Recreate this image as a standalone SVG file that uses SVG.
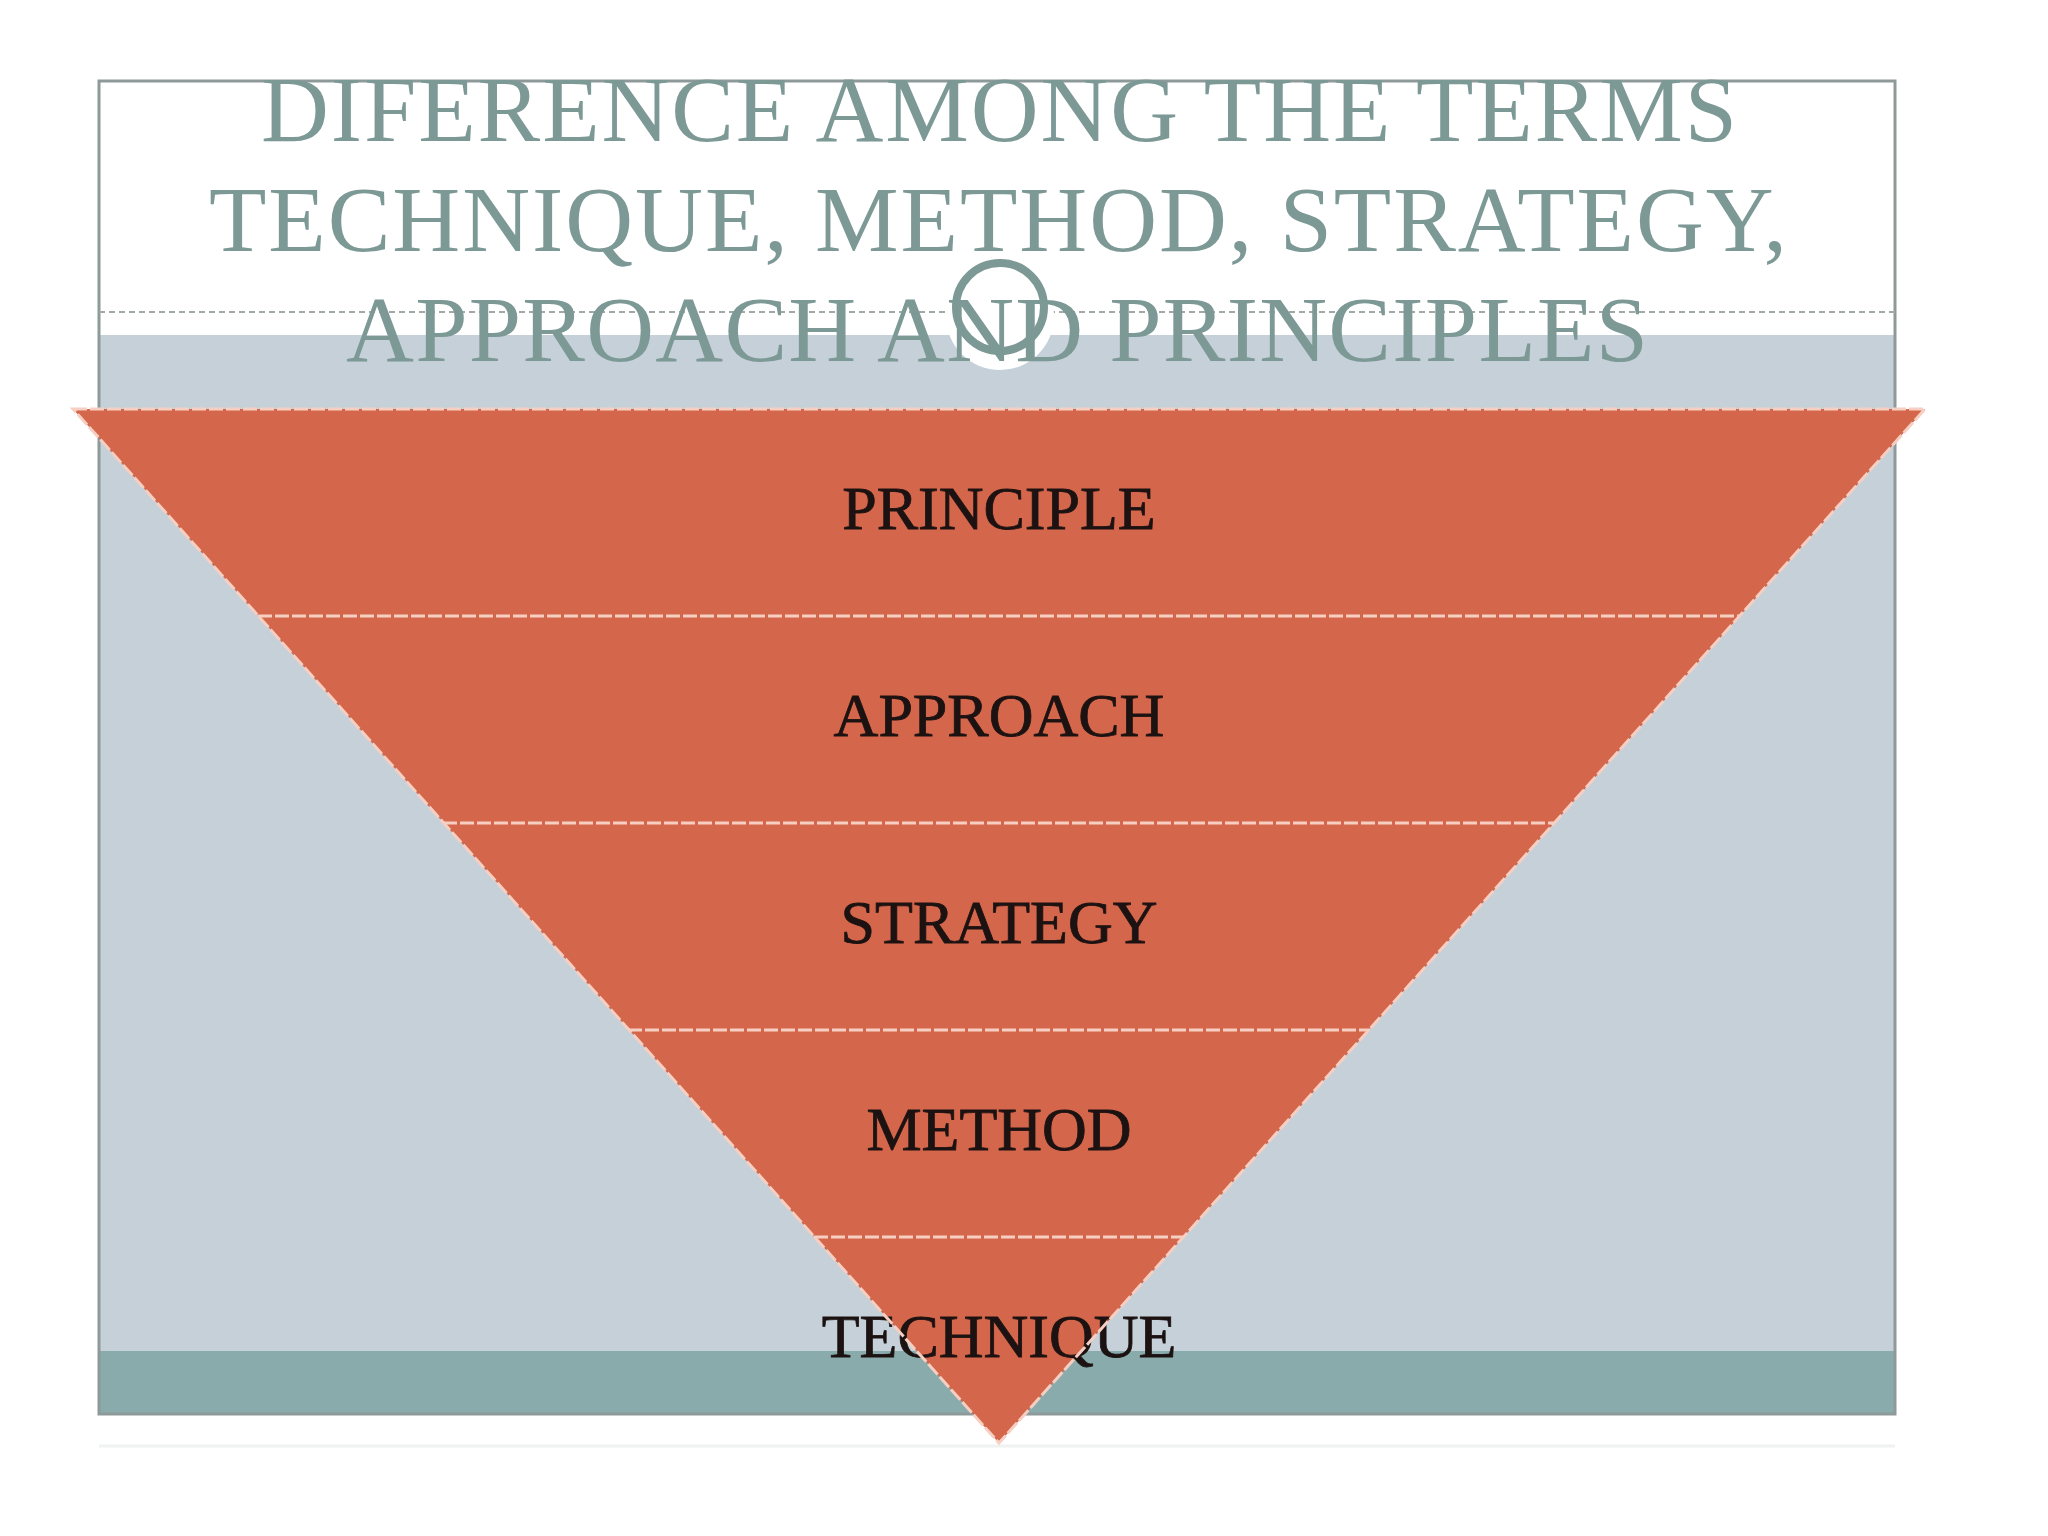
<svg xmlns="http://www.w3.org/2000/svg" width="2048" height="1536" viewBox="0 0 2048 1536">
  <style>
    .title { font-family: "Liberation Serif", "Times New Roman", serif; font-size: 94px; fill: #7d9996; text-anchor: middle; }
    .label { font-family: "Liberation Serif", "Times New Roman", serif; font-size: 62px; fill: #1c1212; stroke: #1c1212; stroke-width: 0.8; text-anchor: middle; }
    .band { fill: #d4664b; }
    .edge { stroke: #f6cfc2; stroke-width: 3; stroke-dasharray: 14 3; fill: none; }
  </style>
  <rect x="0" y="0" width="2048" height="1536" fill="#ffffff"/>

  <g id="background">
    <line x1="99" y1="1446" x2="1895" y2="1446" stroke="#f0f1f1" stroke-width="3"/>
    <rect x="99" y="81" width="1796" height="1333" fill="#ffffff"/>
    <rect x="99" y="335" width="1796" height="1016" fill="#c5d0d8"/>
    <rect x="99" y="1351" width="1796" height="63" fill="#8aabab"/>
    <rect x="99" y="81" width="1796" height="1333" fill="none" stroke="#8e9a9a" stroke-width="3"/>
    <line x1="99" y1="312" x2="1895" y2="312" stroke="#a0a8a8" stroke-width="2" stroke-dasharray="6 4"/>
    <circle cx="1000" cy="316" r="54" fill="#ffffff"/>
    <circle cx="1000" cy="307" r="44" fill="none" stroke="#7d9996" stroke-width="8"/>
  </g>

  <g id="title">
    <text class="title" x="999" y="141" textLength="1476" lengthAdjust="spacing">DIFERENCE AMONG THE TERMS</text>
    <text class="title" x="998" y="251" textLength="1578" lengthAdjust="spacing">TECHNIQUE, METHOD, STRATEGY,</text>
    <text class="title" x="997" y="361" textLength="1302" lengthAdjust="spacing">APPROACH AND PRINCIPLES</text>
  </g>

  <g id="pyramid">
    <polygon class="band" points="73,409 1925,409 999,1443"/>
  </g>

  <g id="principle">
    <text class="label" x="999" y="529">PRINCIPLE</text>
  </g>
  <g id="approach">
    <text class="label" x="999" y="736">APPROACH</text>
  </g>
  <g id="strategy">
    <text class="label" x="999" y="943">STRATEGY</text>
  </g>
  <g id="method">
    <text class="label" x="999" y="1150">METHOD</text>
  </g>
  <g id="technique">
    <text class="label" x="999" y="1357">TECHNIQUE</text>
  </g>

  <g id="dividers">
    <polygon class="edge" points="73,409 1925,409 999,1443"/>
    <line class="edge" x1="258" y1="616" x2="1740" y2="616"/>
    <line class="edge" x1="443" y1="823" x2="1555" y2="823"/>
    <line class="edge" x1="628" y1="1030" x2="1370" y2="1030"/>
    <line class="edge" x1="814" y1="1237" x2="1184" y2="1237"/>
  </g>
</svg>
